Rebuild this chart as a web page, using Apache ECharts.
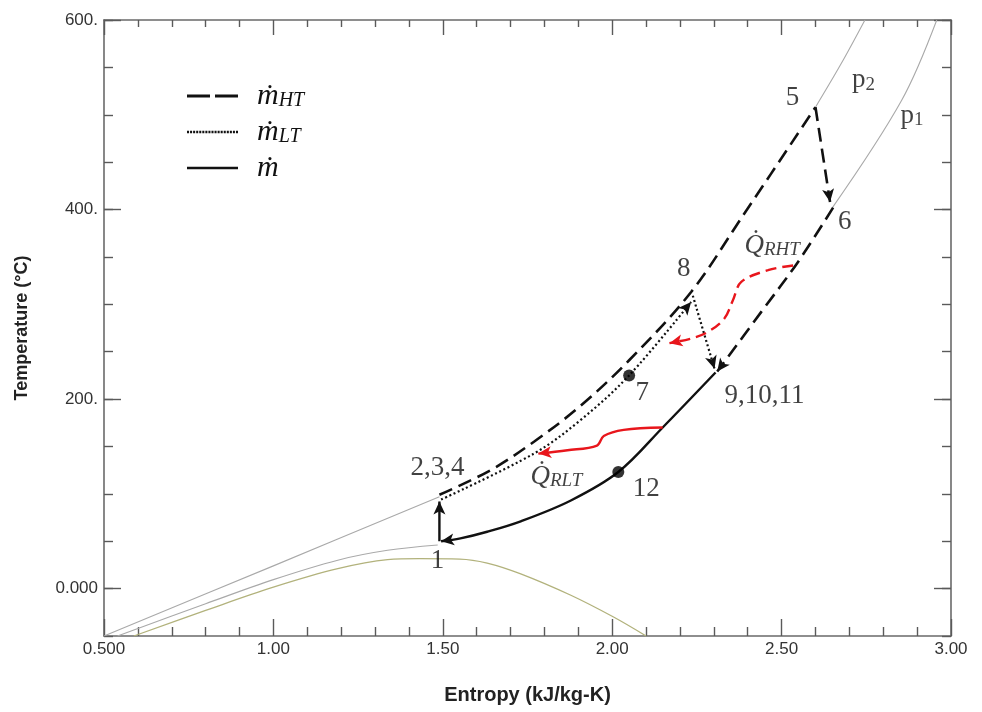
<!DOCTYPE html>
<html>
<head>
<meta charset="utf-8">
<script src="https://cdn.jsdelivr.net/npm/echarts@6/dist/echarts.min.js"></script>
<style>
  html, body { margin: 0; padding: 0; background: #fff; }
  #chart { width: 982px; height: 712px; }
</style>
</head>
<body>
<div id="chart"></div>
<script>
// ---- Axis ticks ----
const xTicks = [0.5, 1.0, 1.5, 2.0, 2.5, 3.0];
const yTicks = [0, 200, 400, 600];

// ---- Saturation dome of CO2 [s kJ/kg-K, T °C] ----
const satDome = [[0.588, -50], [0.8, -23], [1.0, 1.5], [1.19, 21], [1.337, 30.5], [1.43, 31.6],
  [1.55, 31.2], [1.631, 27], [1.73, 15.6], [1.878, -7], [2.004, -30], [2.1, -50]];

// ---- Isobars (visible parts outside the cycle) ----
const isobarP2Low = [[0.5, -50], [1.0, 24], [1.49, 97]];
const isobarP2High = [[2.6, 508], [2.676, 554], [2.746, 600]];
const isobarP1Low = [[0.54, -50], [0.8, -16], [1.0, 9.5], [1.19, 30], [1.337, 40.4], [1.485, 46]];
const isobarP1High = [[2.65, 402], [2.854, 515], [2.958, 600]];

// ---- High-temperature stream (dashed) ----
const htHeating = [[1.49, 99], [1.641, 125], [1.769, 155], [1.907, 193], [2.05, 241], [2.233, 313], [2.383, 392], [2.6, 508]];
const htTurbine = [[2.6, 508], [2.643, 408]];
const htRecup = [[2.652, 402], [2.549, 345], [2.44, 292], [2.31, 229]];

// ---- Low-temperature stream (dotted) ----
const ltHeating = [[1.495, 94], [1.769, 142.5], [1.907, 178], [2.05, 225], [2.233, 302.5]];
const ltTurbine = [[2.238, 309], [2.302, 232]];

// ---- Total flow (solid) ----
const mainCooling = [[2.305, 228], [2.149, 170], [2.018, 123], [1.878, 93], [1.73, 71], [1.631, 60], [1.552, 53], [1.495, 50]];
const mainPump = [[1.49, 50], [1.49, 92]];

// ---- Recuperated heat (red) ----
const qRHT = [[2.534, 341], [2.46, 336], [2.381, 323.6], [2.356, 304], [2.331, 285], [2.282, 270.8], [2.233, 263.9], [2.169, 259]];
const qRLT = [[2.149, 170], [2.034, 167.5], [1.975, 161], [1.955, 151], [1.868, 146], [1.782, 142.5]];

// ---- Marked state points ----
const dotPoints = [[2.05, 225], [2.018, 123]];
const stateNames = ['1', '2,3,4', '5', '6', '7', '8', '9,10,11', '12'];
const stateS = [1.49, 1.49, 2.6, 2.648, 2.05, 2.238, 2.305, 2.018];
const stateT = [48, 97, 508, 404, 225, 311, 228, 123];

// label offsets in pixels, keyed by state name
const stateOffset = {
  '1': [-2, 18], '2,3,4': [-2, -29], '5': [-23, -9], '6': [13, 16],
  '7': [13, 18], '8': [-9, -25], '9,10,11': [49, 23], '12': [28, 17]
};

const SERIF = "'Liberation Serif', 'DejaVu Serif', serif";
const SANS = "'Liberation Sans', Arial, sans-serif";
const BLACK = '#111';
const RED = '#e8161c';

function path(name, data, color, width, type, arrow, z) {
  const s = {
    type: 'line', name: name, data: data, smooth: 0.35, symbol: 'none', showSymbol: false,
    silent: true, animation: false, z: z || 3, clip: true,
    lineStyle: { color: color, width: width, type: type, cap: 'butt' },
    itemStyle: { color: color }
  };
  if (arrow) {
    const n = data.length;
    s.markLine = {
      silent: true, animation: false, symbol: ['none', 'arrow'], symbolSize: [9, 13],
      label: { show: false }, emphasis: { disabled: true },
      lineStyle: { color: color, width: 0, type: 'solid' },
      data: [[{ coord: data[n - 2] }, { coord: data[n - 1] }]]
    };
  }
  return s;
}

const DASH = [14, 7];
const DOT = [2, 2.6];

// legend glyphs: dashed, dotted and solid strokes 51px wide
let dotIcon = 'path://';
for (let i = 0; i < 17; i++) dotIcon += 'M' + (i * 3) + ',0h2v2.4h-2z';
const dashIcon = 'path://M0,0h23v3h-23zM28,0h23v3h-23z';
const solidIcon = 'path://M0,0h51v2.6h-51z';

const labelData = stateNames.map((nm, i) => ({
  value: [stateS[i], stateT[i]],
  label: { formatter: nm, offset: stateOffset[nm] }
}));
labelData.push({ value: htTurbine[0], label: { formatter: '{p|p}{ps|2}', offset: [48, -27] } });
labelData.push({ value: htTurbine[1], label: { formatter: '{p|p}{ps|1}', offset: [82, -86] } });
labelData.push({ value: qRHT[0], label: { formatter: '{q|Q\u0307}{qs|RHT}', offset: [-21, -20] } });
labelData.push({ value: qRLT[qRLT.length - 1], label: { formatter: '{q|Q\u0307}{qs|RLT}', offset: [18, 23] } });

const tickColor = '#5a5a5a';
const lineColor = '#6a6a6a';

function xAxisDef(pos, labels) {
  return {
    type: 'value', min: 0.5, max: 3.0, interval: 0.5, position: pos,
    axisLine: { show: true, onZero: false, lineStyle: { color: lineColor, width: 1.6 } },
    axisTick: { show: true, inside: true, length: pos === 'bottom' ? 17 : 15, lineStyle: { color: tickColor, width: 1.4 } },
    minorTick: { show: true, splitNumber: 5, length: pos === 'bottom' ? 9 : 7, lineStyle: { color: tickColor, width: 1.4 } },
    splitLine: { show: false },
    axisLabel: labels ? {
      show: true, margin: 5, fontSize: 17, color: '#333', fontFamily: SANS, showMaxLabel: true, showMinLabel: true,
      formatter: v => (Math.abs(v - 0.5) < 1e-9 ? '0.500' : v.toFixed(2))
    } : { show: false },
    name: labels ? 'Entropy (kJ/kg-K)' : '', nameLocation: 'middle', nameGap: 49,
    nameTextStyle: { fontFamily: SANS, fontWeight: 'bold', fontSize: 20, color: '#222' }
  };
}

function yAxisDef(pos, major, labels) {
  const a = {
    type: 'value', min: -50, max: 600, interval: 50, position: pos,
    axisLine: { show: major, onZero: false, lineStyle: { color: lineColor, width: 1.6 } },
    axisTick: { show: true, inside: true, length: major ? 17 : 9, lineStyle: { color: tickColor, width: 1.4 } },
    splitLine: { show: false },
    axisLabel: { show: false }
  };
  if (major) a.axisTick.customValues = yTicks;
  if (labels) {
    a.axisLabel = {
      show: true, customValues: yTicks, margin: 6, fontSize: 17, color: '#333', fontFamily: SANS,
      formatter: v => (v === 0 ? '0.000' : v + '.')
    };
    a.name = 'Temperature (\u00B0C)';
    a.nameLocation = 'middle';
    a.nameGap = 73;
    a.nameTextStyle = { fontFamily: SANS, fontWeight: 'bold', fontSize: 18, color: '#222' };
  }
  return a;
}

const subStyle = { fontFamily: SERIF, fontStyle: 'italic', fontSize: 20, color: BLACK, padding: [9, 0, 0, 0] };

const chart = echarts.init(document.getElementById('chart'), null, { renderer: 'canvas' });
chart.setOption({
  animation: false,
  backgroundColor: '#fff',
  grid: { left: 104, right: 31, top: 20, bottom: 76, containLabel: false },
  xAxis: [xAxisDef('bottom', true), xAxisDef('top', false)],
  yAxis: [yAxisDef('left', true, true), yAxisDef('left', false, false), yAxisDef('right', true, false), yAxisDef('right', false, false)],
  legend: {
    data: [
      { name: 'HT', icon: dashIcon },
      { name: 'LT', icon: dotIcon },
      { name: 'm', icon: solidIcon }
    ],
    orient: 'vertical', left: 182, top: 76, itemWidth: 51, itemHeight: 3, itemGap: 6,
    selectedMode: false,
    formatter: n => (n === 'm' ? '{m|\u1E41}' : '{m|\u1E41}{s|' + n + '}'),
    textStyle: {
      rich: {
        m: { fontFamily: SERIF, fontStyle: 'italic', fontSize: 30, color: BLACK, lineHeight: 32, padding: [0, 0, 0, 14] },
        s: subStyle
      }
    }
  },
  series: [
    path('dome', satDome, '#b2b27c', 1.3, 'solid', false, 1),
    path('p2a', isobarP2Low, '#a9a9a9', 1.1, 'solid', false, 1),
    path('p2b', isobarP2High, '#a9a9a9', 1.1, 'solid', false, 1),
    path('p1a', isobarP1Low, '#a9a9a9', 1.1, 'solid', false, 1),
    path('p1b', isobarP1High, '#a9a9a9', 1.1, 'solid', false, 1),

    path('HT', htHeating, BLACK, 2.6, DASH, false),
    path('HT', htTurbine, BLACK, 2.6, DASH, true),
    path('HT', htRecup, BLACK, 2.6, DASH, true),

    path('LT', ltHeating, BLACK, 2.2, DOT, true),
    path('LT', ltTurbine, BLACK, 2.2, DOT, true),

    path('m', mainCooling, BLACK, 2.4, 'solid', true),
    path('m', mainPump, BLACK, 2.4, 'solid', true),

    path('qRHT', qRHT, RED, 2.4, [11, 6], true, 4),
    path('qRLT', qRLT, RED, 2.4, 'solid', true, 4),

    {
      type: 'scatter', name: 'points', data: dotPoints, symbol: 'circle', symbolSize: 12,
      itemStyle: { color: '#000' }, silent: true, z: 6, animation: false
    },
    {
      type: 'scatter', name: 'labels', data: labelData, symbolSize: 0, silent: true, z: 7, animation: false,
      label: {
        show: true, position: 'inside', fontFamily: SERIF, fontSize: 27, color: BLACK,
        rich: {
          p: { fontFamily: SERIF, fontSize: 27, color: BLACK, lineHeight: 28 },
          ps: { fontFamily: SERIF, fontSize: 19, color: BLACK, padding: [9, 0, 0, 0] },
          q: { fontFamily: SERIF, fontStyle: 'italic', fontSize: 27, color: BLACK, lineHeight: 30 },
          qs: { fontFamily: SERIF, fontStyle: 'italic', fontSize: 19, color: BLACK, padding: [9, 0, 0, 0] }
        }
      }
    }
  ]
});
</script>
</body>
</html>
